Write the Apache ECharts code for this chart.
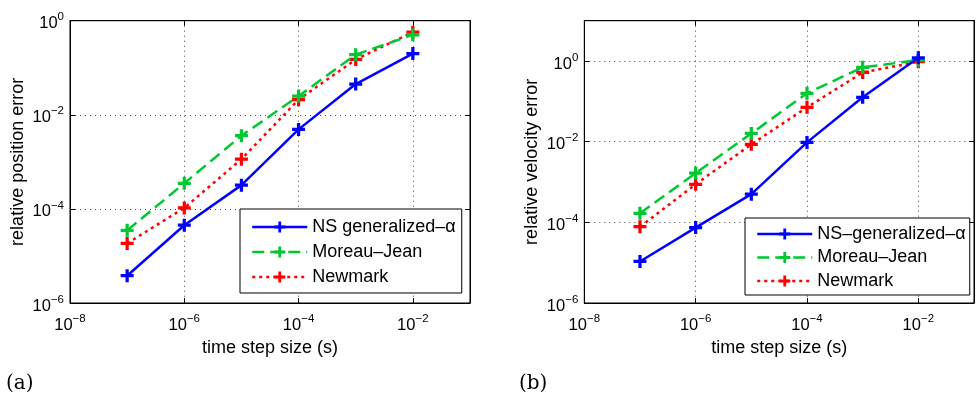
<!DOCTYPE html>
<html>
<head>
<meta charset="utf-8">
<script src="https://cdn.jsdelivr.net/npm/echarts@6/dist/echarts.min.js"></script>
<style>
html,body{margin:0;padding:0;background:#fff;overflow:hidden;}
#c{width:977px;height:404px;}
</style>
</head>
<body>
<div id="c"></div>
<script>
// time step sizes (s)
const stepSizes = [1e-7, 1e-6, 1e-5, 1e-4, 1e-3, 1e-2];
// (a) relative position error
const posNS = [3.8e-6, 4.5e-5, 3.2e-4, 4.9e-3, 0.045, 0.20];
const posMJ = [3.5e-5, 3.5e-4, 3.6e-3, 0.025, 0.19, 0.50];
const posNM = [1.85e-5, 1.05e-4, 1.14e-3, 0.021, 0.15, 0.57];
// (b) relative velocity error
const velNS = [1.07e-5, 7.4e-5, 5.0e-4, 9.6e-3, 0.126, 1.2];
const velMJ = [1.67e-4, 1.67e-3, 0.016, 0.158, 0.70, 1.05];
const velNM = [7.8e-5, 8.8e-4, 8.6e-3, 0.071, 0.52, 0.96];
// labelled tick exponents
const xTickExps = [-8, -6, -4, -2];
const yTickExps = [-6, -4, -2, 0];
const namesA = ['NS generalized\u2013\u03b1', 'Moreau\u2013Jean', 'Newmark'];
const namesB = ['NS\u2013generalized\u2013\u03b1', 'Moreau\u2013Jean', 'Newmark'];

const FONT = 'Liberation Sans, Arial, Helvetica, sans-serif';
const PLUS = 'path://M-1.5,-6H1.5V-1.5H6V1.5H1.5V6H-1.5V1.5H-6V-1.5H-1.5Z';
const colors = ['#0000ff', '#00c832', '#ff0000'];
const dashes = ['solid', [12, 6], [3, 4]];

function pair(ys) { return stepSizes.map((x, i) => [x, ys[i]]); }

function tickFmt(allowed) {
  return function (v) {
    const e = Math.round(Math.log10(v));
    if (allowed.indexOf(e) < 0) return '';
    const s = e < 0 ? '\u2212' + (-e) : String(e);
    return '{b|10}{s|' + s + '}';
  };
}
const rich = {
  b: { fontSize: 16.5, fontFamily: FONT, color: '#000', padding: [6, 0, 0, 0] },
  s: { fontSize: 11.5, fontFamily: FONT, color: '#000', padding: [0, 0, 7, 0] }
};

function xAxisMain(gi) {
  return {
    type: 'log', logBase: 10, gridIndex: gi, min: 1e-8, max: 1e-1, interval: 2,
    position: 'bottom',
    name: 'time step size (s)', nameLocation: 'middle', nameGap: 36,
    nameTextStyle: { fontSize: 18, fontFamily: FONT, color: '#000' },
    axisLine: { show: true, lineStyle: { color: '#000', width: 1 } },
    axisTick: { show: true, inside: true, length: 5, lineStyle: { color: '#000' } },
    axisLabel: { formatter: tickFmt(xTickExps), rich: rich, margin: 8, showMinLabel: true, showMaxLabel: true },
    splitLine: { show: true, lineStyle: { color: '#444', type: [1, 4], width: 1 } }
  };
}
function xAxisTop(gi) {
  return {
    type: 'log', logBase: 10, gridIndex: gi, min: 1e-8, max: 1e-1, interval: 2,
    position: 'top',
    axisLine: { show: true, lineStyle: { color: '#000', width: 1 } },
    axisTick: { show: true, inside: true, length: 5, lineStyle: { color: '#000' } },
    axisLabel: { show: false }, splitLine: { show: false }
  };
}
function yAxisMain(gi, maxV, name) {
  return {
    type: 'log', logBase: 10, gridIndex: gi, min: 1e-6, max: maxV, interval: 2,
    position: 'left',
    name: name, nameLocation: 'middle', nameGap: 43,
    nameTextStyle: { fontSize: 18, fontFamily: FONT, color: '#000' },
    axisLine: { show: true, lineStyle: { color: '#000', width: 1 } },
    axisTick: { show: true, inside: true, length: 5, lineStyle: { color: '#000' } },
    axisLabel: { formatter: tickFmt(yTickExps), rich: rich, margin: 6, showMinLabel: true, showMaxLabel: true },
    splitLine: { show: true, lineStyle: { color: '#444', type: [1, 4], width: 1 } }
  };
}
function yAxisRight(gi, maxV) {
  return {
    type: 'log', logBase: 10, gridIndex: gi, min: 1e-6, max: maxV, interval: 2,
    position: 'right',
    axisLine: { show: true, lineStyle: { color: '#000', width: 1 } },
    axisTick: { show: true, inside: true, length: 5, lineStyle: { color: '#000' } },
    axisLabel: { show: false }, splitLine: { show: false }
  };
}

function mkSeries(name, ys, k, xi, yi) {
  return {
    name: name, type: 'line', xAxisIndex: xi, yAxisIndex: yi,
    data: pair(ys), symbol: PLUS, symbolSize: 13, showSymbol: true,
    lineStyle: { color: colors[k], width: 2.5, type: dashes[k], cap: 'butt' },
    itemStyle: { color: colors[k], borderWidth: 0 },
    emphasis: { disabled: true }, animation: false, z: 3 + (2 - k)
  };
}

const chart = echarts.init(document.getElementById('c'), null, { renderer: 'canvas' });
const legendBase = {
  orient: 'vertical', itemWidth: 55, itemHeight: 14, itemGap: 7,
  borderColor: '#000', borderWidth: 1, backgroundColor: '#fff', borderRadius: 0,
  textStyle: { fontSize: 18, fontFamily: FONT, color: '#000', lineHeight: 18 },
  lineStyle: { width: 2.5 },
  selectedMode: false
};
chart.setOption({
  animation: false,
  backgroundColor: '#fff',
  grid: [
    { left: 70, top: 20.7, width: 400, height: 282.3, show: true, borderColor: '#000', borderWidth: 1, backgroundColor: 'transparent' },
    { left: 584.3, top: 20.7, width: 400, height: 282.3, show: true, borderColor: '#000', borderWidth: 1, backgroundColor: 'transparent' }
  ],
  xAxis: [xAxisMain(0), xAxisMain(1), xAxisTop(0), xAxisTop(1)],
  yAxis: [yAxisMain(0, 1, 'relative position error'), yAxisMain(1, 10, 'relative velocity error'), yAxisRight(0, 1), yAxisRight(1, 10)],
  legend: [
    Object.assign({}, legendBase, { data: namesA, left: 240, top: 209, padding: [9, 6, 7, 11], itemGap: 7 }),
    Object.assign({}, legendBase, { data: namesB, left: 745, top: 218, padding: [7, 4, 5, 11], itemGap: 5.5 })
  ],
  series: [
    mkSeries(namesA[0], posNS, 0, 0, 0),
    mkSeries(namesA[1], posMJ, 1, 0, 0),
    mkSeries(namesA[2], posNM, 2, 0, 0),
    mkSeries(namesB[0], velNS, 0, 1, 1),
    mkSeries(namesB[1], velMJ, 1, 1, 1),
    mkSeries(namesB[2], velNM, 2, 1, 1)
  ],
  graphic: [
    { type: 'text', left: 6, top: 374, style: { text: '(a)', font: '20px "DejaVu Serif", serif', fill: '#000' } },
    { type: 'text', left: 519, top: 374, style: { text: '(b)', font: '20px "DejaVu Serif", serif', fill: '#000' } }
  ]
});
</script>
</body>
</html>
